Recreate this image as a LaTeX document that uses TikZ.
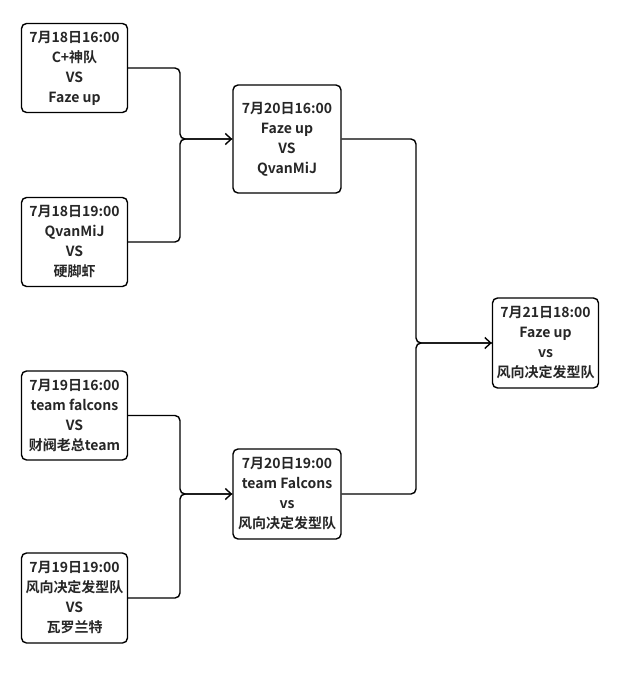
\documentclass[tikz,border=0pt]{standalone}
\usepackage{fontspec}
\newfontfamily\cjk{Noto Sans CJK SC}[BoldFont={Noto Sans CJK SC Bold}]
\usetikzlibrary{arrows.meta}
\begin{document}
\begin{tikzpicture}[x=1pt,y=-1pt,
  match/.style={draw, line width=1.4pt, rounded corners=5pt, minimum width=#1, align=center,
    font=\cjk\bfseries\fontsize{14}{20}\selectfont, inner sep=0pt, text=black!85},
  conn/.style={line width=1.4pt, rounded corners=5pt},
  arr/.style={conn, -{Straight Barb[length=6pt,width=11pt,line width=1.4pt]}}]
\fill[white] (0,0) rectangle (623,678);
\useasboundingbox (0,0) rectangle (623,678);

\node[match=106pt, minimum height=89pt] (a1) at (74.5,68) {7月18日16:00\\C+神队\\VS\\Faze up};
\node[match=106pt, minimum height=89pt] (a2) at (74.5,242) {7月18日19:00\\QvanMiJ\\VS\\硬脚虾};
\node[match=106pt, minimum height=89pt] (a3) at (74.5,415.5) {7月19日16:00\\team falcons\\VS\\财阀老总team};
\node[match=106pt, minimum height=90pt] (a4) at (74.5,598) {7月19日19:00\\风向决定发型队\\VS\\瓦罗兰特};

\node[match=108pt, minimum height=108pt] (b1) at (287,139) {7月20日16:00\\Faze up\\VS\\QvanMiJ};
\node[match=108pt, minimum height=90pt] (b2) at (287,494) {7月20日19:00\\team Falcons\\vs\\风向决定发型队};

\node[match=106pt, minimum height=90pt] (c) at (545.5,343) {7月21日18:00\\Faze up\\vs\\风向决定发型队};

\coordinate (j1) at (180,139);
\coordinate (j2) at (180,494);
\coordinate (j3) at (416,343);

\draw[arr] (a1.east) -| (j1) -- (b1.west);
\draw[conn] (a2.east) -| (j1) -- (b1.west);
\draw[arr] (a3.east) -| (j2) -- (b2.west);
\draw[conn] (a4.east) -| (j2) -- (b2.west);
\draw[arr] (b1.east) -| (j3) -- (c.west);
\draw[conn] (b2.east) -| (j3) -- (c.west);
\end{tikzpicture}
\end{document}
